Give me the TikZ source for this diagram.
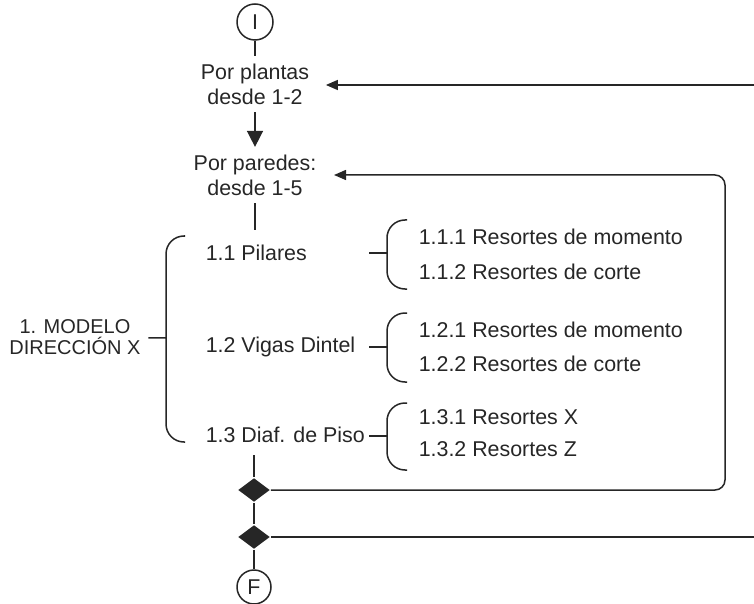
\documentclass[tikz,border=0pt]{standalone}
\usepackage{fontspec}
\setmainfont{Liberation Sans}
\usepackage{tikz}
\usetikzlibrary{shapes.geometric, arrows.meta, positioning}
\definecolor{tinta}{HTML}{262626}

\begin{document}
\begin{tikzpicture}[
    x=0.5pt, y=-0.5pt,
    line width=0.75pt, color=tinta,
    paso/.style={align=center, inner sep=3.5pt, font=\fontsize{10.7}{12.5}\selectfont},
    item/.style={anchor=west, inner sep=0pt, font=\fontsize{10.7}{12.5}\selectfont},
    terminal/.style={circle, draw, minimum size=18pt, inner sep=0pt, font=\fontsize{10.7}{12.5}\selectfont},
    rombo/.style={diamond, fill=tinta, minimum width=16pt, minimum height=12pt, inner sep=0pt},
    llave/.style={rounded corners=9pt},
    flecha/.style={-{Triangle[length=6pt, width=5pt]}},
    bajada/.style={-{Triangle[length=8pt, width=8pt]}},
  ]
  \useasboundingbox (0,0) rectangle (754,604);

  \node[terminal] (inicio) at (255,22) {I};
  \node[paso] (plantas) at (255,84) {Por plantas\\desde 1-2};
  \node[paso] (paredes) at (255,175) {Por paredes:\\desde 1-5};
  \node[paso, font=\fontsize{10}{10.8}\selectfont] (modelo) at (75,337) {1. MODELO\\DIRECCIÓN X};

  \node[item] (pilares) at (205,253) {1.1 Pilares};
  \node[item] (vigas) at (205,347) {1.2 Vigas Dintel};
  \node[item] (diafragma) at (205,435) {1.3 Diaf. de Piso};

  \node[item] (r111) at (418,237) {1.1.1 Resortes de momento};
  \node[item] (r112) at (418,272) {1.1.2 Resortes de corte};
  \node[item] (r121) at (418,330) {1.2.1 Resortes de momento};
  \node[item] (r122) at (418,364) {1.2.2 Resortes de corte};
  \node[item] (r131) at (418,417) {1.3.1 Resortes X};
  \node[item] (r132) at (418,449) {1.3.2 Resortes Z};

  \node[rombo] (dec1) at (254,490) {};
  \node[rombo] (dec2) at (254,537) {};
  \node[terminal, minimum size=17pt] (fin) at (254,587) {F};

  \coordinate (punta) at (166,338);
  \coordinate (hueco) at (255,230);
  \coordinate (salida) at (254,455);
  \coordinate (lazo) at (725,175);
  \coordinate (ret1) at (754,85);
  \coordinate (ret2) at (754,537);

  % flujo principal
  \draw (inicio) -- (plantas);
  \draw[bajada] (plantas) -- (paredes);
  \draw (paredes) -- (hueco);
  \draw (salida) -- (dec1);
  \draw (dec1) -- (dec2);
  \draw (dec2) -- (fin);

  % retornos
  \draw[flecha, shorten >=4.5pt] (ret1) -- (ret1 -| plantas.east);
  \draw[flecha, rounded corners=5pt, shorten >=5pt] (dec1.east) -| (lazo) -- (lazo -| paredes.east);
  \draw (dec2) -- (ret2);

  % llaves
  \draw (modelo) -- (punta);
  \draw[llave] (185,236) -| (punta) |- (185,442);
  \foreach \m/\t/\b in {253/220/289, 347/313/382, 436/403/470} {
    \draw[llave] (407,\t) -| (387,\m) |- (407,\b);
    \draw (387,\m) -- (369,\m);
  }
\end{tikzpicture}
\end{document}
